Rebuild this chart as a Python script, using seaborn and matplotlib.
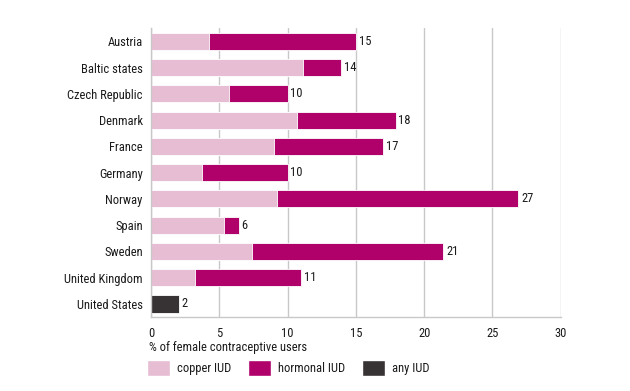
import matplotlib
matplotlib.use("Agg")
import matplotlib.pyplot as plt
from matplotlib.patches import Patch
import seaborn as sns
import pandas as pd
import numpy as np

countries = ["Austria", "Baltic states", "Czech Republic", "Denmark", "France",
             "Germany", "Norway", "Spain", "Sweden", "United Kingdom", "United States"]
copper   = [4.2, 11.1, 5.7, 10.7, 9.0, 3.7, 9.2, 5.3, 7.4, 3.2, 0.0]
hormonal = [10.8, 2.8, 4.3, 7.2, 8.0, 6.3, 17.7, 1.1, 14.0, 7.8, 0.0]
any_iud  = [0, 0, 0, 0, 0, 0, 0, 0, 0, 0, 2.0]

COPPER_C, HORMONAL_C, ANY_C = "#e6bdd2", "#b0006a", "#373234"
GRID_C = "#c8c8c8"
TEXT_C = "#1a1a1a"

sns.set_theme(style="white")
plt.rcParams["font.family"] = ["Roboto Condensed", "DejaVu Sans"]

df = pd.DataFrame({"country": countries, "copper": copper,
                   "hormonal": hormonal, "any": any_iud})
df["stack"] = df["copper"] + df["hormonal"]
df["total"] = df["stack"] + df["any"]

fig = plt.figure(figsize=(6.3, 3.91), dpi=100)
ax = fig.add_axes([0.24, 0.189, 0.65, 0.739])

# stacked bars: hormonal drawn as the full length, copper laid on top of it
edge = dict(edgecolor="white", linewidth=0.6, width=0.65, saturation=1, ax=ax)
sns.barplot(data=df, y="country", x="stack", color=HORMONAL_C, **edge)
sns.barplot(data=df, y="country", x="copper", color=COPPER_C, **edge)
sns.barplot(data=df, y="country", x="any", color=ANY_C, **edge)

for i, tot in enumerate(df["total"]):
    ax.text(tot + 0.2, i, f"{int(round(tot))}", va="center", ha="left",
            fontsize=9, color=TEXT_C)

ax.set_xlim(0, 30)
ax.set_ylim(10.5, -0.5)
ax.set_xticks(np.arange(0, 31, 5))
ax.xaxis.grid(True, color=GRID_C, linewidth=1)
ax.set_axisbelow(True)
for s in ["top", "right"]:
    ax.spines[s].set_visible(False)
for s in ["left", "bottom"]:
    ax.spines[s].set_color(GRID_C)
    ax.spines[s].set_linewidth(1)
ax.tick_params(axis="both", length=0, labelsize=9, colors=TEXT_C)
ax.tick_params(axis="x", pad=7)
ax.tick_params(axis="y", pad=6)
ax.set_ylabel("")
ax.set_xlabel("")
fig.text(0.236, 1 - 347 / 391, "% of female contraceptive users", fontsize=9,
         color=TEXT_C, ha="left", va="center")

handles = [Patch(facecolor=COPPER_C, edgecolor="white", label="copper IUD"),
           Patch(facecolor=HORMONAL_C, edgecolor="white", label="hormonal IUD"),
           Patch(facecolor=ANY_C, edgecolor="white", label="any IUD")]
leg = fig.legend(handles=handles, loc="center left",
                 bbox_to_anchor=(0.225, 1 - 368 / 391), ncol=3,
                 frameon=False, fontsize=9, handlelength=1.85, handleheight=1.6,
                 columnspacing=1.3, handletextpad=0.6, borderaxespad=0)
for t in leg.get_texts():
    t.set_color(TEXT_C)

fig.savefig("out.png", dpi=100)
